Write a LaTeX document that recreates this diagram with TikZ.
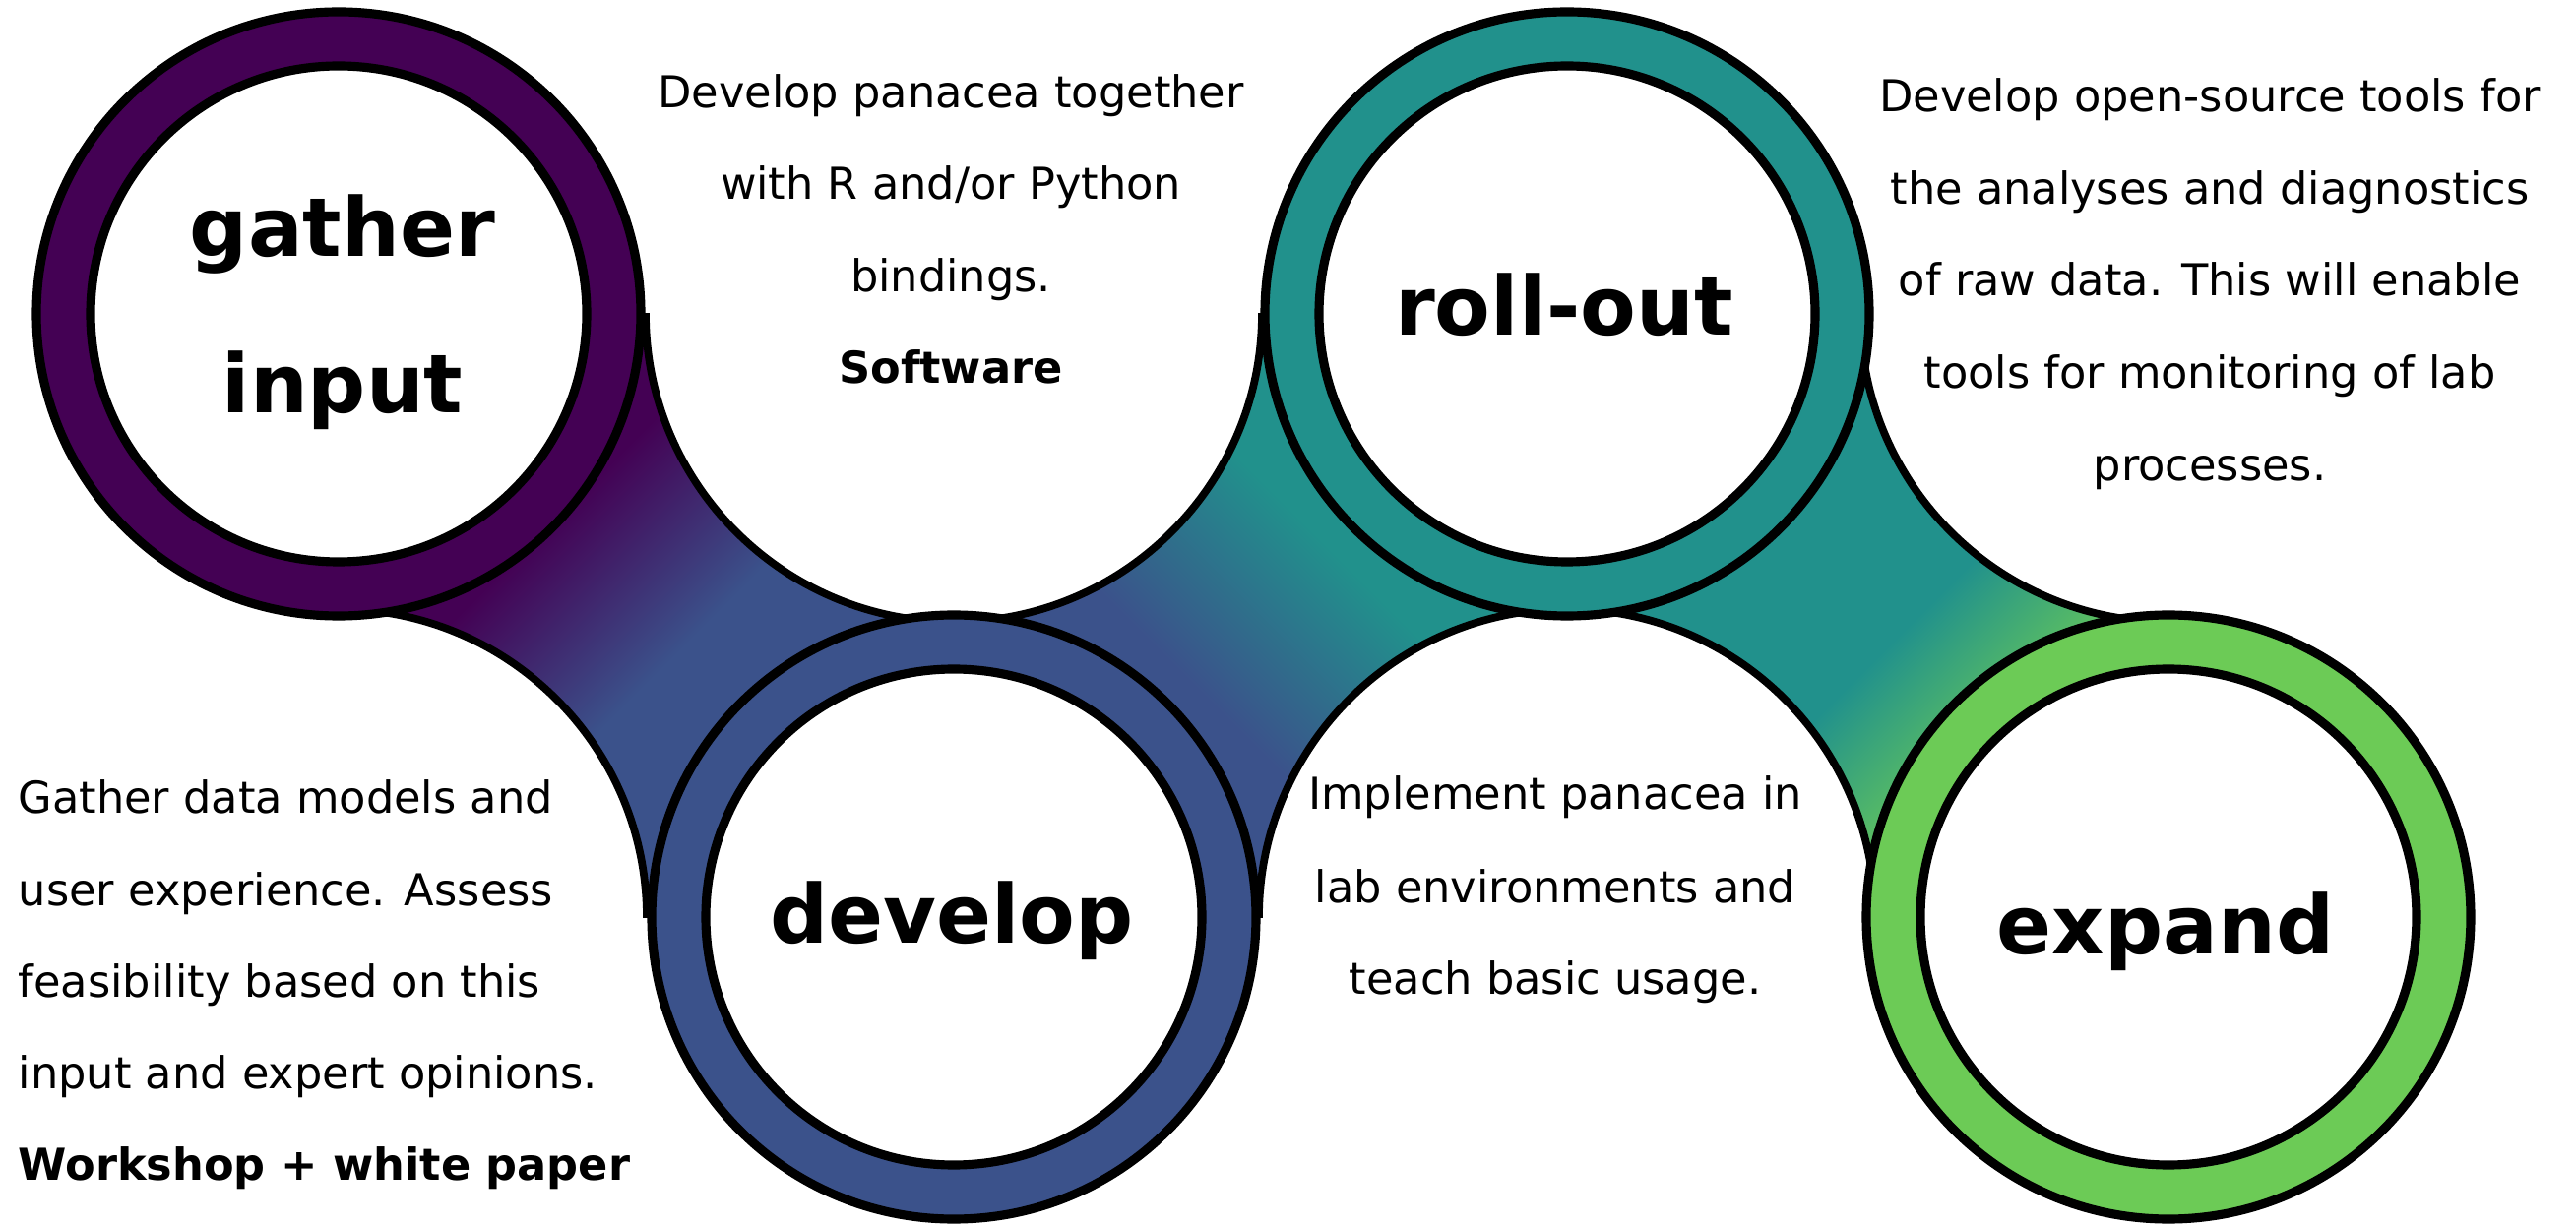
\documentclass[tikz,border=0pt]{standalone}
\usepackage{fontspec}
\setmainfont{DejaVu Sans}
\definecolor{cpurple}{HTML}{440154}
\definecolor{cblue}{HTML}{3B528B}
\definecolor{cteal}{HTML}{21918C}
\definecolor{cgreen}{HTML}{6CCB56}
\pgfdeclareverticalshading{bandA}{100bp}{color(0bp)=(cblue); color(46bp)=(cblue); color(61bp)=(cpurple); color(100bp)=(cpurple)}
\pgfdeclareverticalshading{bandB}{100bp}{color(0bp)=(cblue); color(42bp)=(cblue); color(58bp)=(cteal); color(100bp)=(cteal)}
\pgfdeclareverticalshading{bandC}{100bp}{color(0bp)=(cgreen); color(33bp)=(cgreen); color(47bp)=(cteal); color(100bp)=(cteal)}
\begin{document}
\begin{tikzpicture}[x=0.01cm,y=-0.01cm,
  ringline/.style={line width=2.6pt, draw=black},
  arcline/.style={line width=2.2pt, draw=black},
  body/.style={font=\fontsize{12.7pt}{15pt}\selectfont, inner sep=0pt, anchor=base},
  bodyb/.style={body, font=\fontsize{12.7pt}{15pt}\selectfont\bfseries},
  bodyl/.style={body, anchor=base west},
  bodylb/.style={bodyb, anchor=base west},
  lbl/.style={font=\fontsize{23.5pt}{28pt}\selectfont\bfseries, inner sep=0pt, anchor=base}]
\useasboundingbox (0,0) rectangle (2617,1246);
\coordinate (cG) at (344,319);
\coordinate (cD) at (969,932);
\coordinate (cO) at (1592,319);
\coordinate (cE) at (2203,932);
\coordinate (w1) at (969,319);
\coordinate (w2) at (344,932);
\coordinate (w3) at (1592,932);
\coordinate (w4) at (2203,319);
% band
\shade[shading=bandA, shading angle=45] (cG) rectangle (cD);
\shade[shading=bandB, shading angle=-45] (w1) rectangle (w3);
\shade[shading=bandC, shading angle=45] (cO) rectangle (cE);
\fill[white] (w1) circle (313) (w2) circle (313) (w3) circle (313) (w4) circle (313);
\begin{scope}
\clip (cG) rectangle (cE);
\path[arcline] (w1) circle (313) (w2) circle (313) (w3) circle (313) (w4) circle (313);
\end{scope}
% rings
\path[ringline, fill=cpurple] (cG) circle (307);
\path[ringline, fill=white] (cG) circle (252);
\path[ringline, fill=cblue] (cD) circle (307);
\path[ringline, fill=white] (cD) circle (252);
\path[ringline, fill=cteal] (cO) circle (307);
\path[ringline, fill=white] (cO) circle (252);
\path[ringline, fill=cgreen] (cE) circle (307);
\path[ringline, fill=white] (cE) circle (252);
% labels
\node[lbl] (lg1) at (348,261) {gather};
\node[lbl] (lg2) at (348,420) {input};
\node[lbl] (lo) at (1589,341) {roll-out};
\node[lbl] (ld) at (967,958) {develop};
\node[lbl] (le) at (2200,969) {expand};
% text A
\node[body] (ta1) at (966,110) {Develop panacea together};
\node[body] (ta2) at (966,203) {with R and/or Python};
\node[body] (ta3) at (966,297) {bindings.};
\node[bodyb] (ta4) at (966,390) {Software};
% text B
\node[body] (tb1) at (2245,114) {Develop open-source tools for};
\node[body] (tb2) at (2245,208) {the analyses and diagnostics};
\node[body] (tb3) at (2245,301) {of raw data. This will enable};
\node[body] (tb4) at (2245,395) {tools for monitoring of lab};
\node[body] (tb5) at (2245,489) {processes.};
% text C
\node[bodyl] (tc1) at (18,827) {Gather data models and};
\node[bodyl] (tc2) at (18,920) {user experience. Assess};
\node[bodyl] (tc3) at (18,1013) {feasibility based on this};
\node[bodyl] (tc4) at (18,1106) {input and expert opinions.};
\node[bodylb] (tc5) at (18,1199) {Workshop + white paper};
% text D
\node[body] (td1) at (1580,823) {Implement panacea in};
\node[body] (td2) at (1580,917) {lab environments and};
\node[body] (td3) at (1580,1010) {teach basic usage.};
\end{tikzpicture}
\end{document}
